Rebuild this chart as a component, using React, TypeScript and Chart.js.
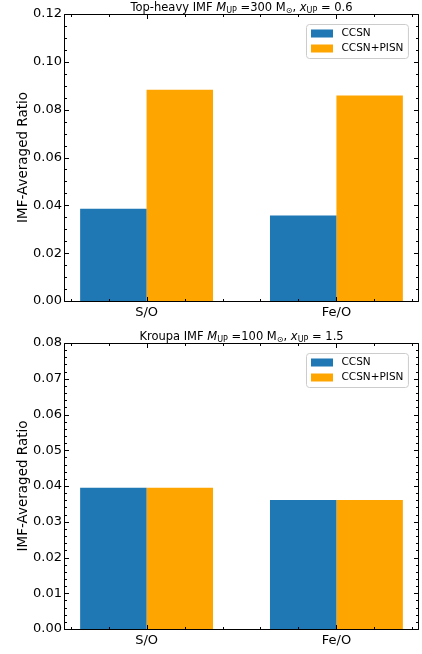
import React, { useEffect, useRef } from 'react';
import { Chart, registerables } from 'chart.js';

Chart.register(...registerables);

// ---- data ----
const categories = ['S/O', 'Fe/O'];
const seriesLabels = ['CCSN', 'CCSN+PISN'];
const seriesColors = ['#1f77b4', '#ffa500'];

const topCCSN = [0.0386, 0.0357];
const topPISN = [0.0883, 0.0859];
const bottomCCSN = [0.0395, 0.0361];
const bottomPISN = [0.0395, 0.0361];

const topYTicks = [0, 0.02, 0.04, 0.06, 0.08, 0.1, 0.12];
const bottomYTicks = [0, 0.01, 0.02, 0.03, 0.04, 0.05, 0.06, 0.07, 0.08];
const topYMinorStep = 0.005;
const bottomYMinorStep = 0.002;
const xMajorTicks = [0, 1];
const xMinorTicks = [-0.4, -0.2, 0.2, 0.4, 0.6, 0.8, 1.2, 1.4];

// title segments: [text, style] with style n=normal, i=italic, s=subscript
const topTitle: [string, string][] = [
  ['Top-heavy IMF ', 'n'], ['M', 'i'], ['UP', 's'], [' =300 M', 'n'], ['\u2299', 's'],
  [', ', 'n'], ['x', 'i'], ['UP', 's'], [' = 0.6', 'n'],
];
const bottomTitle: [string, string][] = [
  ['Kroupa IMF ', 'n'], ['M', 'i'], ['UP', 's'], [' =100 M', 'n'], ['\u2299', 's'],
  [', ', 'n'], ['x', 'i'], ['UP', 's'], [' = 1.5', 'n'],
];

const FONT = '"DejaVu Sans", sans-serif';

const decorPlugin = {
  id: 'decor',
  afterDraw(chart: any, _args: any, opts: any) {
    const ctx = chart.ctx;
    const { left, right, top, bottom } = chart.chartArea;
    const xs = chart.scales.x;
    const ys = chart.scales.y;
    ctx.save();
    // frame
    ctx.strokeStyle = '#000';
    ctx.lineWidth = 1;
    const L = Math.round(left) + 0.5, R = Math.round(right) - 0.5;
    const T = Math.round(top) + 0.5, B = Math.round(bottom) + 0.5;
    ctx.beginPath();
    ctx.moveTo(L, T); ctx.lineTo(R, T); ctx.lineTo(R, B); ctx.lineTo(L, B); ctx.closePath();
    ctx.stroke();
    // ticks
    const MAJ = 4.5, MIN = 2.5;
    ctx.beginPath();
    const yTick = (v: number, len: number) => {
      const p = Math.round(ys.getPixelForValue(v)) + 0.5;
      ctx.moveTo(L, p); ctx.lineTo(L + len, p);
      ctx.moveTo(R, p); ctx.lineTo(R - len, p);
    };
    const xTick = (v: number, len: number) => {
      const p = Math.round(xs.getPixelForValue(v)) + 0.5;
      ctx.moveTo(p, B); ctx.lineTo(p, B - len);
      ctx.moveTo(p, T); ctx.lineTo(p, T + len);
    };
    const yMax = opts.yTicks[opts.yTicks.length - 1];
    for (let i = 0; i * opts.yMinor <= yMax + 1e-9; i++) yTick(i * opts.yMinor, MIN);
    opts.yTicks.forEach((v: number) => yTick(v, MAJ));
    xMinorTicks.forEach((v) => xTick(v, MIN));
    xMajorTicks.forEach((v) => xTick(v, MAJ));
    ctx.stroke();

    // title
    const fs = 11.5;
    const segs = opts.title as [string, string][];
    const fontFor = (st: string) =>
      st === 'i' ? `italic ${fs}px ${FONT}` : st === 's' ? `${fs * 0.7}px ${FONT}` : `${fs}px ${FONT}`;
    let total = 0;
    segs.forEach(([t, st]) => { ctx.font = fontFor(st); total += ctx.measureText(t).width; });
    let x = (left + right) / 2 - total / 2;
    const base = top - 3.5;
    ctx.fillStyle = '#000';
    ctx.textBaseline = 'alphabetic';
    ctx.textAlign = 'left';
    segs.forEach(([t, st]) => {
      ctx.font = fontFor(st);
      ctx.fillText(t, x, st === 's' ? base + fs * 0.22 : base);
      x += ctx.measureText(t).width;
    });

    // legend
    const lfs = 10.5;
    ctx.font = `${lfs}px ${FONT}`;
    const ds = chart.data.datasets;
    let tw = 0;
    ds.forEach((d: any) => { tw = Math.max(tw, ctx.measureText(d.label).width); });
    const bw = 35 + tw + 5;
    const bh = 34;
    const bx = Math.round(right - 11 - bw) + 0.5;
    const by = Math.round(top + 10) + 0.5;
    const r = 3;
    ctx.beginPath();
    ctx.moveTo(bx + r, by);
    ctx.arcTo(bx + bw, by, bx + bw, by + bh, r);
    ctx.arcTo(bx + bw, by + bh, bx, by + bh, r);
    ctx.arcTo(bx, by + bh, bx, by, r);
    ctx.arcTo(bx, by, bx + bw, by, r);
    ctx.closePath();
    ctx.fillStyle = 'rgba(255,255,255,0.8)';
    ctx.fill();
    ctx.strokeStyle = '#cccccc';
    ctx.lineWidth = 1;
    ctx.stroke();
    ds.forEach((d: any, i: number) => {
      const cy = by + 9 + i * 15;
      ctx.fillStyle = d.backgroundColor;
      ctx.fillRect(bx + 4.5, cy - 4, 22, 8);
      ctx.fillStyle = '#000';
      ctx.textBaseline = 'middle';
      ctx.fillText(d.label, bx + 35, cy);
    });
    ctx.restore();
  },
};

type PanelProps = {
  ccsn: number[];
  pisn: number[];
  yTicks: number[];
  yMinor: number;
  title: [string, string][];
  height: number;
  padTop: number;
  xAxisH: number;
};

function Panel({ ccsn, pisn, yTicks, yMinor, title, height, padTop, xAxisH }: PanelProps) {
  const ref = useRef<HTMLCanvasElement>(null);
  useEffect(() => {
    if (!ref.current) return;
    const yMax = yTicks[yTicks.length - 1];
    const step = yTicks[1] - yTicks[0];
    const chart = new Chart(ref.current, {
      type: 'bar',
      data: {
        datasets: [ccsn, pisn].map((vals, k) => ({
          label: seriesLabels[k],
          data: categories.map((_, i) => ({ x: i, y: vals[i] })),
          backgroundColor: seriesColors[k],
          borderWidth: 0,
          categoryPercentage: 0.7,
          barPercentage: 1.0,
        })),
      },
      options: {
        responsive: false,
        animation: false,
        devicePixelRatio: 1,
        layout: { padding: { top: padTop, right: 3, left: 0, bottom: 0 } },
        plugins: {
          legend: { display: false },
          title: { display: false },
          tooltip: { enabled: false },
          decor: { yTicks, yMinor, title },
        } as any,
        scales: {
          x: {
            type: 'linear',
            offset: false,
            min: -0.435,
            max: 1.435,
            grid: { display: false, drawTicks: false, offset: false },
            border: { display: false },
            afterBuildTicks: (s: any) => { s.ticks = xMajorTicks.map((v) => ({ value: v })); },
            afterFit: (s: any) => { s.height = xAxisH; },
            ticks: {
              padding: 4,
              autoSkip: false,
              maxRotation: 0,
              color: '#000',
              font: { family: FONT, size: 13 },
              callback: (v: any) => categories[Math.round(Number(v))] ?? '',
            },
          },
          y: {
            type: 'linear',
            min: 0,
            max: yMax,
            grid: { display: false, drawTicks: false },
            border: { display: false },
            afterBuildTicks: (s: any) => { s.ticks = yTicks.map((v) => ({ value: v })); },
            afterFit: (s: any) => { s.width = 64; },
            ticks: {
              stepSize: step,
              padding: 2,
              color: '#000',
              font: { family: FONT, size: 13 },
              callback: (v: any) => Number(v).toFixed(2),
            },
            title: {
              display: true,
              text: 'IMF-Averaged Ratio',
              color: '#000',
              font: { family: FONT, size: 13.5 },
              padding: { top: 15, bottom: 0 },
            },
          },
        },
      },
      plugins: [decorPlugin],
    } as any);
    return () => chart.destroy();
  }, []);
  return <canvas ref={ref} width={422} height={height} style={{ display: 'block' }} />;
}

export default function App() {
  return (
    <div style={{ position: 'absolute', left: 0, top: 0, width: 422, height: 654, background: '#fff' }}>
      <Panel ccsn={topCCSN} pisn={topPISN} yTicks={topYTicks} yMinor={topYMinorStep}
        title={topTitle} height={328} padTop={14} xAxisH={27} />
      <Panel ccsn={bottomCCSN} pisn={bottomPISN} yTicks={bottomYTicks} yMinor={bottomYMinorStep}
        title={bottomTitle} height={326} padTop={15} xAxisH={25} />
    </div>
  );
}
